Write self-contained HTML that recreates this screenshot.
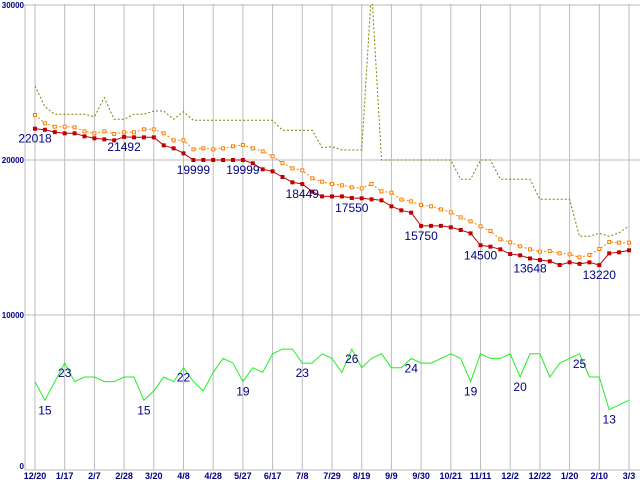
<!DOCTYPE html>
<html><head><meta charset="utf-8"><style>
html,body{margin:0;padding:0;background:#fff;width:640px;height:480px;overflow:hidden}
svg{display:block}
text{font-family:"Liberation Sans",sans-serif}
</style></head><body>
<svg id="chart" width="640" height="480" viewBox="0 0 640 480" xmlns="http://www.w3.org/2000/svg">
<defs><clipPath id="plotclip"><rect x="25" y="4" width="615" height="467"/></clipPath></defs>
<g id="grid"></g>
<g id="series" clip-path="url(#plotclip)"></g>
<g id="labels"></g>
</svg>
<script>
const xTickLabels = ["12/20","1/17","2/7","2/28","3/20","4/8","4/28","5/27","6/17","7/8","7/29","8/19","9/9","9/30","10/21","11/11","12/2","12/22","1/20","2/10","3/3"];
const yTickValues = [0,10000,20000,30000];
const priceLow = [22018,21950,21800,21720,21720,21527,21398,21333,21269,21492,21462,21462,21462,20946,20753,20430,19999,19999,19999,19999,19999,19999,19785,19398,19269,18903,18559,18449,17957,
17650,17650,17650,17550,17527,17462,17398,17011,16753,16602,15750,15750,15750,15656,15484,15269,14500,14409,14237,13935,13849,13648,13548,13462,13226,13398,13300,13398,13220,13978,14043,14172];
const priceAvg = [22903,22366,22151,22151,22108,21849,21720,21849,21677,21785,21785,21978,21978,21720,21269,21269,20688,20753,20688,20753,20882,20968,20753,20559,20237,19806,19462,19333,18817,
18602,18452,18366,18237,18172,18452,17978,17892,17441,17333,17097,17011,16817,16624,16301,16043,15720,15419,14882,14688,14430,14237,14086,14129,13978,13914,13720,13871,14258,14710,14667,14667];
const priceHigh = [24774,23441,22946,22946,22946,22946,22796,24022,22624,22624,22946,22946,23161,23161,22624,23118,22559,22559,22559,22559,22559,22559,22559,22559,22559,21914,21914,21914,21914,
20800,20860,20645,20645,20645,31000,20000,20000,20000,20000,20000,20000,20000,20000,18755,18755,20000,20000,18755,18755,18755,18755,17464,17464,17464,17464,15075,15075,15269,15075,15300,15742];
const shopCount = [19,15,19,23,19,20,20,19,19,20,20,15,17,20,19,22,19,17,21,24,23,19,22,21,25,26,26,23,23,25,24,21,26,22,24,25,22,22,24,23,23,24,25,24,19,25,24,24,25,20,25,25,20,23,24,25,20,20,13,14,15];
const priceLabelIdx = [0,9,16,21,27,32,39,45,50,57];
const countLabelIdx = [1,3,11,15,21,27,32,38,44,49,55,58];

const NS="http://www.w3.org/2000/svg";
const X0=35, X1=629, Y0=470, YT=5;
const n=priceLow.length;
function xs(i){return X0+(X1-X0)*i/(n-1);}
function yp(v){return Y0-(Y0-YT)*v/30000;}
function yc(v){return Y0-(Y0-YT)*v/100;}
function mk(tag,attrs,parent){const e=document.createElementNS(NS,tag);for(const k in attrs)e.setAttribute(k,attrs[k]);parent.appendChild(e);return e;}
const grid=document.getElementById('grid'),ser=document.getElementById('series'),lab=document.getElementById('labels');

yTickValues.forEach(v=>{
  const l=mk('line',{x1:25,x2:640,y1:yp(v),y2:yp(v),stroke:'#bbbbbb','stroke-width':1},grid);
  
  
  const t=mk('text',{x:24,y:v===30000?yp(v)+3:(v===0?yp(v)-1:yp(v)+3),'text-anchor':'end','font-size':8,'font-weight':'bold',fill:'#000080','font-family':'Liberation Mono, monospace'},grid);
  t.textContent=v;
  
  
});
xTickLabels.forEach((s,k)=>{
  const x=X0+(X1-X0)*k/(xTickLabels.length-1);
  const l=mk('line',{x1:x,x2:x,y1:YT-1,y2:Y0,stroke:'#bbbbbb','stroke-width':1},grid);
  
  
  const t=mk('text',{x:x,y:479,'text-anchor':'middle','font-size':9,'font-weight':'bold',fill:'#000080','font-family':'Liberation Mono, monospace'},grid);
  t.textContent=s;
  
  
});
const ax=mk('line',{x1:25,x2:25,y1:YT-1,y2:Y0,stroke:'#bbbbbb','stroke-width':1},grid);



function pts(arr,f){return arr.map((v,i)=>xs(i).toFixed(1)+','+f(v).toFixed(1)).join(' ');}
const hl=mk('polyline',{points:pts(priceHigh,yp),fill:'none',stroke:'#808000','stroke-width':1,'stroke-dasharray':'2,2'},ser);


const al=mk('polyline',{points:pts(priceAvg,yp),fill:'none',stroke:'#ff8000','stroke-width':1,'stroke-dasharray':'2,2'},ser);


priceAvg.forEach((v,i)=>{
  const r=mk('rect',{x:xs(i)-1.5,y:yp(v)-1.5,width:3,height:3,fill:'#fff',stroke:'#ff8000','stroke-width':1},ser);
  
  
});
const ll=mk('polyline',{points:pts(priceLow,yp),fill:'none',stroke:'#c00000','stroke-width':1},ser);


priceLow.forEach((v,i)=>{
  const r=mk('rect',{x:xs(i)-2,y:yp(v)-2,width:4,height:4,fill:'#c00000'},ser);
  
  
});
const cl=mk('polyline',{points:pts(shopCount,yc),fill:'none',stroke:'#22ee22','stroke-width':1},ser);



priceLabelIdx.forEach(i=>{
  const t=mk('text',{x:xs(i),y:yp(priceLow[i])+14,'text-anchor':'middle','font-size':12,fill:'#000080'},lab);
  t.textContent=priceLow[i];
  
  
});
countLabelIdx.forEach(i=>{
  const t=mk('text',{x:xs(i),y:yc(shopCount[i])+14,'text-anchor':'middle','font-size':12,fill:'#000080'},lab);
  t.textContent=shopCount[i];
  
  
});
</script>
</body></html>
